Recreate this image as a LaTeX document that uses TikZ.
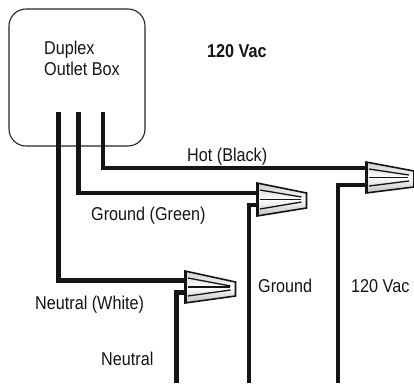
\documentclass[tikz,border=0pt]{standalone}
\usepackage{fontspec}
\setmainfont{Liberation Sans}[FakeStretch=0.87]
\tikzset{
  x=1pt,y=-1pt,
  wire/.style={line width=4.3pt,line join=miter,black!92},
  boxline/.style={line width=1.1pt,black!85},
  lbl/.style={font=\fontsize{18.6}{21}\selectfont,inner sep=0pt,anchor=base west,text=black!92},
  nutbody/.style={draw=black!92,line width=1.6pt,line join=miter,top color=black!20,bottom color=black!26,middle color=white},
  nutline/.style={line width=1.3pt,black!92}
}
% #1 name, #2 left x, #3 top-left y, #4 bottom-left y, #5 right x, #6 right top y, #7 right bottom y
\newcommand{\wirenut}[7]{%
  \path[nutbody] (#2,#3) -- (#5,#6) -- (#5,#7) -- (#2,#4) -- cycle;
  \draw[nutline,line width=3pt] (#2,#3) -- (#2,#4);
  \coordinate (#1) at (#2,{(#3+#4)/2});
  \draw[nutline] ({#2+3},{#3+7}) -- ({#5-5},{#6+4});
  \draw[nutline] ({#2+3},{(#3+#4)/2}) -- ({#5-6},{(#3+#4)/2});
  \draw[nutline] ({#2+3},{#4-7}) -- ({#5-5},{#7-6});
}
\begin{document}
\begin{tikzpicture}
\useasboundingbox (0,0) rectangle (414,383);
\fill[white] (0,0) rectangle (414,383);
% box
\node[draw,boxline,rectangle,rounded corners=17pt,minimum width=136pt,minimum height=137pt,inner sep=0pt] (box) at (77,77.5) {};
\node[lbl] (l1) at (44,54.3) {Duplex};
\node[lbl] (l2) at (44,75.3) {Outlet Box};
\node[lbl,font=\fontsize{18.6}{21}\selectfont\bfseries] (title) at (207,57.7) {120 Vac};
% endpoints of wires
\coordinate (nstart) at (58.5,112);
\coordinate (gstart) at (78.5,112);
\coordinate (hstart) at (102.7,112);
\coordinate (nend) at (176.5,383);
\coordinate (gend) at (248.7,383);
\coordinate (hend) at (337.7,383);
\coordinate (nt) at (186,280.5);
\coordinate (gt) at (258,192.7);
\coordinate (ht) at (367,168);
\coordinate (nb) at (186,292.5);
\coordinate (gb) at (258,205);
\coordinate (hb) at (367,184.7);
% wires
\draw[wire] (nstart) |- (nt);
\draw[wire] (gstart) |- (gt);
\draw[wire] (hstart) |- (ht);
\draw[wire] (nend) |- (nb);
\draw[wire] (gend) |- (gb);
\draw[wire] (hend) |- (hb);
% wire nuts
\wirenut{nn}{185}{271}{303}{235.5}{282}{296}
\wirenut{gn}{257}{183}{216}{306.5}{193}{208}
\wirenut{hn}{366}{162}{193}{414}{171}{187}
% labels
\node[lbl] (hot) at (187,161.7) {Hot (Black)};
\node[lbl] (gg) at (91,220.3) {Ground (Green)};
\node[lbl] (nw) at (35,309) {Neutral (White)};
\node[lbl] (neu) at (101,365.7) {Neutral};
\node[lbl] (gr) at (258,292.3) {Ground};
\node[lbl] (v) at (351,292.3) {120 Vac};
\end{tikzpicture}
\end{document}
